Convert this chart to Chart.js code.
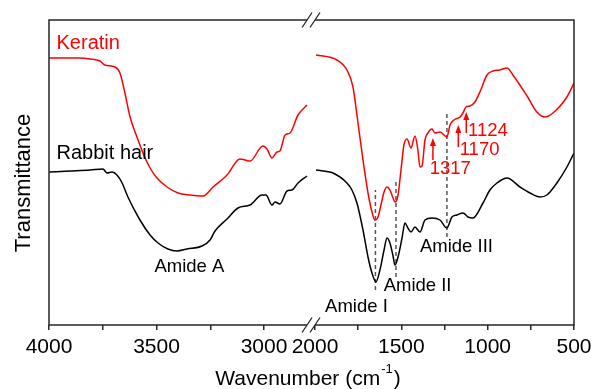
<!DOCTYPE html>
<html>
<head>
<meta charset="utf-8">
<script src="https://cdn.jsdelivr.net/npm/chart.js@4.4.1/dist/chart.umd.min.js"></script>
<style>
  html, body { margin: 0; padding: 0; background: #fff; }
  #wrap { width: 593px; height: 389px; }
</style>
</head>
<body>
<div id="wrap"><canvas id="ftir" width="593" height="389"></canvas></div>
<script>
/* --- spectra: wavenumber (cm-1) / transmittance (a.u.) --- */
const keratinHighW = [4000, 3926, 3856, 3809, 3763, 3740, 3693, 3670, 3647, 3623, 3591, 3563, 3530, 3498, 3451, 3400,
                      3344, 3284, 3237, 3172, 3112, 3088, 3065, 3005, 2986, 2963, 2940, 2926, 2902, 2879, 2842, 2800];
const keratinHighT = [267, 267, 267, 266, 264, 260, 258, 252, 232, 208, 188, 172, 157, 147, 138, 132,
                      130, 129, 138, 150, 166, 165, 164, 179, 176, 167, 173, 174, 190, 192, 210, 220];

const hairHighW = [4000, 3902, 3809, 3749, 3730, 3707, 3684, 3660, 3633, 3577, 3530, 3493, 3447, 3405, 3358, 3288,
                   3251, 3228, 3172, 3121, 3065, 3009, 2991, 2963, 2949, 2926, 2893, 2870, 2842, 2800];
const hairHighT = [153, 154, 155, 156, 152, 153, 150, 142, 128, 105, 90, 82, 76, 74, 76, 79,
                   85, 94, 106, 117, 120, 130, 130, 120, 123, 121, 134, 135, 142, 149];

const keratinLowW = [1994, 1873, 1815, 1780, 1751, 1722, 1693, 1670, 1653, 1635, 1618, 1600, 1583, 1566, 1548, 1537,
                     1519, 1502, 1485, 1467, 1444, 1421, 1404, 1392, 1380, 1363, 1346, 1323, 1305, 1276, 1236, 1218,
                     1195, 1160, 1143, 1126, 1103, 1074, 1045, 1004, 969, 929, 888, 854, 772, 715, 668, 622, 541, 500];
const keratinLowT = [270, 265, 255, 238, 202, 165, 132, 113, 105, 108, 120, 133, 138, 135, 127, 123,
                     130, 155, 180, 186, 177, 189, 175, 158, 159, 185, 192, 196, 192, 193, 188, 200,
                     205, 208, 212, 218, 219, 223, 233, 250, 254, 255, 257, 250, 229, 213, 208, 212, 228, 242];

const hairLowW = [1994, 1896, 1815, 1786, 1757, 1722, 1693, 1670, 1647, 1624, 1600, 1583, 1566, 1548, 1537, 1519,
                  1496, 1479, 1462, 1444, 1421, 1392, 1363, 1323, 1276, 1236, 1207, 1178, 1143, 1114, 1085, 1027,
                  987, 946, 888, 813, 755, 697, 657, 599, 541, 500];
const hairLowT = [155, 152, 142, 135, 122, 95, 68, 52, 43, 55, 75, 87, 82, 69, 60, 68,
                  87, 102, 97, 93, 98, 93, 105, 107, 105, 97, 108, 110, 112, 108, 107, 122,
                  135, 142, 147, 138, 132, 128, 130, 142, 158, 172];

/* amide band markers (dashed) and assigned peaks (arrows) */
const markW    = [1650, 1531, 1236];
const markLow  = [35, 48, 88];
const markHigh = [135, 145, 212];

const arrowW    = [1317, 1170, 1124];
const arrowTail = [165, 178, 192];
const arrowTip  = [187, 200, 213];

/* axis ticks */
const tickW    = [4000, 3750, 3500, 3250, 3000, 2000, 1750, 1500, 1250, 1000, 750, 500];
const tickText = ['4000', '', '3500', '', '3000', '2000', '', '1500', '', '1000', '', '500'];

/* --- broken axis: 4000-2800 then 2000-500 at a tighter scale --- */
const BREAK_FROM = 2800, BREAK_TO = 2000, GAP = 37, K_RIGHT = 0.803;
const toU = w => w >= BREAK_FROM ? 4000 - w : (4000 - BREAK_FROM) + GAP + (BREAK_TO - w) * K_RIGHT;
const pts = (ws, ts) => ws.map((w, i) => ({ x: toU(w), y: ts[i] }));

const FONT = "'Liberation Sans', Arial, sans-serif";
const RED = '#ff0000';
const AXIS = '#262626';

const textSpots = [
  { text: 'Keratin',     w: 3965, t: 282,   size: 20,   color: RED,    align: 'left' },
  { text: 'Rabbit hair', w: 3965, t: 172,   size: 20,   color: '#000', align: 'left' },
  { text: 'Amide A',     w: 3347, t: 58,    size: 18.5, color: '#000', align: 'center' },
  { text: 'Amide I',     w: 1760, t: 18,    size: 18.5, color: '#000', align: 'center' },
  { text: 'Amide II',    w: 1406, t: 39,    size: 18.5, color: '#000', align: 'center' },
  { text: 'Amide III',   w: 1181, t: 78,    size: 18.5, color: '#000', align: 'center' },
  { text: '1317',        w: 1336, t: 156.5, size: 18.5, color: RED,    align: 'left' },
  { text: '1170',        w: 1162, t: 175,   size: 18.5, color: RED,    align: 'left' },
  { text: '1124',        w: 1114, t: 194,   size: 18.5, color: RED,    align: 'left' }
];

const curve = (data, color) => ({
  data, borderColor: color, borderWidth: 1.5, pointRadius: 0,
  cubicInterpolationMode: 'monotone', fill: false
});
const dashed = i => ({
  data: [{ x: toU(markW[i]), y: markLow[i] }, { x: toU(markW[i]), y: markHigh[i] }],
  borderColor: '#555', borderWidth: 1.5, borderDash: [4, 3], pointRadius: 0, fill: false
});

/* frame with break marks, arrows, annotations, titles */
const decor = {
  id: 'decor',
  afterDraw(chart) {
    const { ctx, chartArea: a, scales: { x, y } } = chart;
    const px = w => x.getPixelForValue(toU(w));
    const py = t => y.getPixelForValue(t);
    const b0 = x.getPixelForValue(toU(BREAK_FROM));
    const b1 = x.getPixelForValue(toU(BREAK_TO));

    ctx.save();
    ctx.strokeStyle = AXIS;
    ctx.lineWidth = 1.5;
    ctx.beginPath();
    ctx.moveTo(b0, a.top); ctx.lineTo(a.left, a.top); ctx.lineTo(a.left, a.bottom); ctx.lineTo(b0, a.bottom);
    ctx.moveTo(b1, a.top); ctx.lineTo(a.right, a.top); ctx.lineTo(a.right, a.bottom); ctx.lineTo(b1, a.bottom);
    ctx.stroke();

    // "//" break marks
    ctx.lineWidth = 1.3;
    ctx.beginPath();
    [a.top, a.bottom].forEach(yy => {
      [b0, b1].forEach(xx => {
        ctx.moveTo(xx - 5, yy + 7.5);
        ctx.lineTo(xx + 5, yy - 7.5);
      });
    });
    ctx.stroke();

    // arrows
    ctx.strokeStyle = RED;
    ctx.fillStyle = RED;
    ctx.lineWidth = 1.5;
    arrowW.forEach((w, i) => {
      const xx = px(w), yt = py(arrowTip[i]), yb = py(arrowTail[i]);
      ctx.beginPath();
      ctx.moveTo(xx, yb); ctx.lineTo(xx, yt + 5);
      ctx.stroke();
      ctx.beginPath();
      ctx.moveTo(xx, yt); ctx.lineTo(xx - 3, yt + 8); ctx.lineTo(xx + 3, yt + 8);
      ctx.closePath(); ctx.fill();
    });

    // annotations
    ctx.textBaseline = 'middle';
    textSpots.forEach(s => {
      ctx.font = `${s.size}px ${FONT}`;
      ctx.fillStyle = s.color;
      ctx.textAlign = s.align;
      ctx.fillText(s.text, px(s.w), py(s.t));
    });

    // y title
    ctx.fillStyle = '#000';
    ctx.font = `22px ${FONT}`;
    ctx.textAlign = 'center';
    ctx.save();
    ctx.translate(23.5, (a.top + a.bottom) / 2 + 10.5);
    ctx.rotate(-Math.PI / 2);
    ctx.fillText('Transmittance', 0, 0);
    ctx.restore();

    // x title with superscript
    ctx.textBaseline = 'alphabetic';
    ctx.textAlign = 'left';
    const big = `21px ${FONT}`, small = `13px ${FONT}`;
    ctx.font = big;
    const w1 = ctx.measureText('Wavenumber (cm').width;
    const w3 = ctx.measureText(')').width;
    ctx.font = small;
    const w2 = ctx.measureText('-1').width;
    let sx = (a.left + a.right) / 2 - 3.5 - (w1 + w2 + w3 + 2) / 2;
    const base = 385;
    ctx.font = big;
    ctx.fillText('Wavenumber (cm', sx, base);
    sx += w1 + 1;
    ctx.font = small;
    ctx.fillText('-1', sx, base - 12);
    sx += w2 + 1;
    ctx.font = big;
    ctx.fillText(')', sx, base);
    ctx.restore();
  }
};

new Chart(document.getElementById('ftir'), {
  type: 'line',
  data: {
    datasets: [
      curve(pts(keratinHighW, keratinHighT), RED),
      curve(pts(keratinLowW, keratinLowT), RED),
      curve(pts(hairHighW, hairHighT), '#000'),
      curve(pts(hairLowW, hairLowT), '#000'),
      dashed(0), dashed(1), dashed(2)
    ]
  },
  options: {
    responsive: false,
    animation: false,
    devicePixelRatio: 1,
    layout: { padding: { left: 49, top: 20, right: 19, bottom: 0 } },
    plugins: { legend: { display: false }, tooltip: { enabled: false } },
    scales: {
      x: {
        type: 'linear',
        min: 0,
        max: toU(500),
        afterBuildTicks: s => { s.ticks = tickW.map(w => ({ value: toU(w) })); },
        afterFit: s => { s.height = 64; s.paddingLeft = 0; s.paddingRight = 0; },
        border: { display: false },
        grid: { display: true, drawOnChartArea: false, drawTicks: true, tickLength: 5, color: AXIS, lineWidth: 1.5 },
        ticks: {
          autoSkip: false, maxRotation: 0, minRotation: 0, padding: 5, color: '#000',
          font: { family: FONT, size: 21 },
          callback: (v, i) => tickText[i]
        }
      },
      y: { display: false, min: 0, max: 305 }
    }
  },
  plugins: [decor]
});
</script>
</body>
</html>
